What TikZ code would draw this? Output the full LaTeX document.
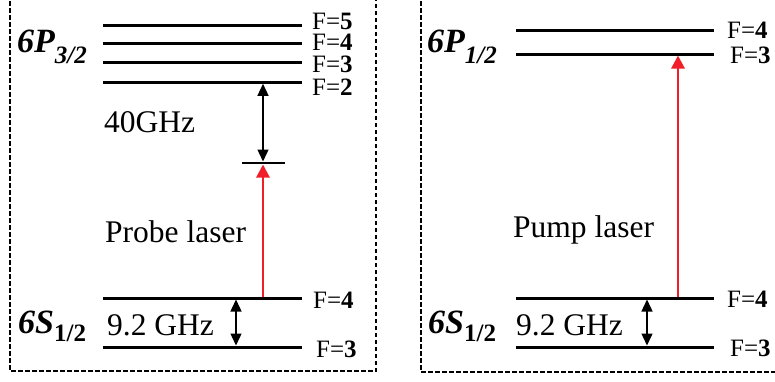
\documentclass[tikz,border=0pt]{standalone}
\usepackage{fontspec}
\setmainfont{Liberation Serif}
\usetikzlibrary{arrows.meta}
\definecolor{laserred}{RGB}{240,30,40}
\tikzset{
  level/.style={line width=3pt},
  frame/.style={line width=1.6pt, dash pattern=on 4.5pt off 2.5pt},
  flab/.style={anchor=base west, inner sep=0pt, text height=16pt, text depth=0pt, font=\fontsize{25}{25}\selectfont},
  txt/.style={anchor=base west, inner sep=0pt, font=\fontsize{31.5}{31.5}\selectfont},
  term/.style={anchor=base west, inner sep=0pt},
  darr/.style={line width=1.4pt, {Triangle[length=12pt,width=11pt]}-{Triangle[length=12pt,width=11pt]}},
  laser/.style={line width=2.8pt, laserred, -{Triangle[length=13pt,width=13pt]}}
}
\newcommand{\Fl}[1]{F=\textbf{#1}}
\newcommand{\termP}[1]{\fontsize{34}{34}\selectfont\bfseries\itshape 6P\raisebox{-0.35em}{\fontsize{25}{25}\selectfont #1}}
\newcommand{\termS}[1]{\fontsize{34}{34}\selectfont\bfseries\itshape 6S\raisebox{-0.25em}{\fontsize{25}{25}\selectfont\upshape #1}}
\begin{document}
\begin{tikzpicture}[x=1pt,y=-1pt]
\clip (0,0) rectangle (775,381);
% frames
\draw[frame] (10,-20) rectangle (376,371);
\draw[frame] (421,-20) rectangle (800,372);

% ---------- left panel ----------
\coordinate (p5a) at (103,25.7); \coordinate (p5b) at (302,25.7);
\coordinate (p4a) at (103,43.7); \coordinate (p4b) at (302,43.7);
\coordinate (p3a) at (103,62.3); \coordinate (p3b) at (302,62.3);
\coordinate (p2a) at (103,82.3); \coordinate (p2b) at (302,82.3);
\draw[level] (p5a) -- (p5b);
\draw[level] (p4a) -- (p4b);
\draw[level] (p3a) -- (p3b);
\draw[level] (p2a) -- (p2b);
\node[flab] (lf5) at (312,29) {\Fl{5}};
\node[flab] (lf4) at (312,50) {\Fl{4}};
\node[flab] (lf3) at (312,72) {\Fl{3}};
\node[flab] (lf2) at (312,95) {\Fl{2}};
\node[term] (l6p) at (17,52) {\termP{3/2}};

% virtual level
\coordinate (va) at (242,163); \coordinate (vb) at (285,163);
\draw[line width=2.8pt] (va) -- (vb);
\coordinate (dTop) at (263,83.8); \coordinate (dBot) at (263,161.5);
\draw[darr] (dTop) -- (dBot);
\node[txt] (ghz40) at (104,132) {40GHz};

% ground levels left
\coordinate (s4a) at (103,298); \coordinate (s4b) at (302,298);
\coordinate (s3a) at (103,347); \coordinate (s3b) at (302,347);
\draw[level] (s4a) -- (s4b);
\draw[level] (s3a) -- (s3b);
\node[flab] (ls4) at (313,308) {\Fl{4}};
\node[flab] (ls3) at (316,357) {\Fl{3}};
\coordinate (gTop) at (236,299.5); \coordinate (gBot) at (236,345.5);
\draw[darr] (gTop) -- (gBot);
\node[txt] (ghzl) at (107,335) {9.2 GHz};
\node[term] (l6s) at (18,333) {\termS{1/2}};
\coordinate (prS) at (263,296.5); \coordinate (prE) at (263,164.5);
\draw[laser] (prS) -- (prE);
\node[txt] (probe) at (105,242) {Probe laser};

% ---------- right panel ----------
\coordinate (q4a) at (516,30); \coordinate (q4b) at (714,30);
\coordinate (q3a) at (516,54); \coordinate (q3b) at (714,54);
\draw[level] (q4a) -- (q4b);
\draw[level] (q3a) -- (q3b);
\node[flab] (rf4) at (727,38) {\Fl{4}};
\node[flab] (rf3) at (730,63) {\Fl{3}};
\node[term] (r6p) at (427,52) {\termP{1/2}};

\coordinate (t4a) at (516,298); \coordinate (t4b) at (714,298);
\coordinate (t3a) at (516,347); \coordinate (t3b) at (714,347);
\draw[level] (t4a) -- (t4b);
\draw[level] (t3a) -- (t3b);
\node[flab] (rs4) at (727,307) {\Fl{4}};
\node[flab] (rs3) at (730,356) {\Fl{3}};
\coordinate (hTop) at (647,299.5); \coordinate (hBot) at (647,345.5);
\draw[darr] (hTop) -- (hBot);
\node[txt] (ghzr) at (516,335) {9.2 GHz};
\node[term] (r6s) at (428,333) {\termS{1/2}};
\coordinate (puS) at (678,296.5); \coordinate (puE) at (678,55.5);
\draw[laser] (puS) -- (puE);
\node[txt] (pump) at (513,237) {Pump laser};
\end{tikzpicture}
\end{document}
